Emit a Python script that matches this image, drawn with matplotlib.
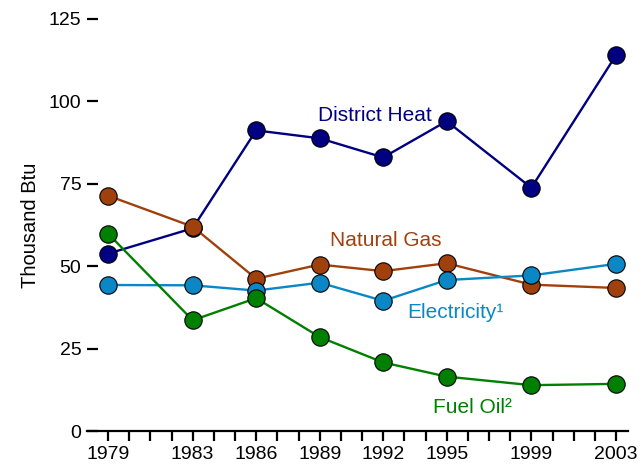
import matplotlib
matplotlib.use("Agg")
import matplotlib.pyplot as plt

plt.rcParams['font.family'] = ['Liberation Sans', 'DejaVu Sans']

years = [1979, 1983, 1986, 1989, 1992, 1995, 1999, 2003]
district_heat = [53.8, 61.5, 91.2, 88.8, 83.0, 94.0, 73.8, 114.0]
natural_gas = [71.4, 62.0, 46.2, 50.5, 48.5, 50.9, 44.4, 43.4]
electricity = [44.3, 44.2, 42.6, 45.0, 39.5, 45.8, 47.2, 50.7]
fuel_oil = [59.9, 33.6, 40.3, 28.5, 20.8, 16.5, 13.9, 14.3]

series = [
    ("District Heat", district_heat, "#000080", (1991.6, 95.7)),
    ("Natural Gas", natural_gas, "#A0410D", (1992.1, 57.8)),
    ("Electricity\u00b9", electricity, "#0A87C4", (1995.4, 35.9)),
    ("Fuel Oil\u00b2", fuel_oil, "#008000", (1996.2, 7.0)),
]

fig = plt.figure(figsize=(6.44, 4.67), dpi=100)
W, H = 644, 467
left, right, bottom, top = 87, 628, 431, 19
ax = fig.add_axes([left / W, (H - bottom) / H, (right - left) / W, (bottom - top) / H])

# electricity drawn first so gas sits on top, as in the original
order = [2, 3, 0, 1]
for i in order:
    name, vals, col, pos = series[i]
    ax.plot(years, vals, color=col, lw=1.7, marker='o', markersize=12.5,
            markerfacecolor=col, markeredgecolor='black', markeredgewidth=0.8,
            zorder=3 + i, clip_on=False)
    ax.text(pos[0], pos[1], name, color=col, fontsize=15, ha='center', va='center')

px_per_year = (616 - 108) / 24
ax.set_xlim(1979 - (108 - left) / px_per_year, 2003 + (right - 616) / px_per_year)
ax.set_ylim(0, 125)

ax.set_xticks(range(1979, 2004))
ax.set_xticklabels([str(y) if y in years else '' for y in range(1979, 2004)])
ax.set_yticks([0, 25, 50, 75, 100, 125])

for s in ['top', 'right', 'left']:
    ax.spines[s].set_visible(False)
ax.spines['bottom'].set_linewidth(1.6)

ax.tick_params(axis='x', direction='out', length=7, width=1.6, labelsize=14, pad=4)
ax.tick_params(axis='y', direction='in', length=8, width=1.6, labelsize=14, pad=4)
ax.set_ylabel('Thousand Btu', fontsize=14.5, labelpad=6)

fig.savefig('out.png', dpi=100)
